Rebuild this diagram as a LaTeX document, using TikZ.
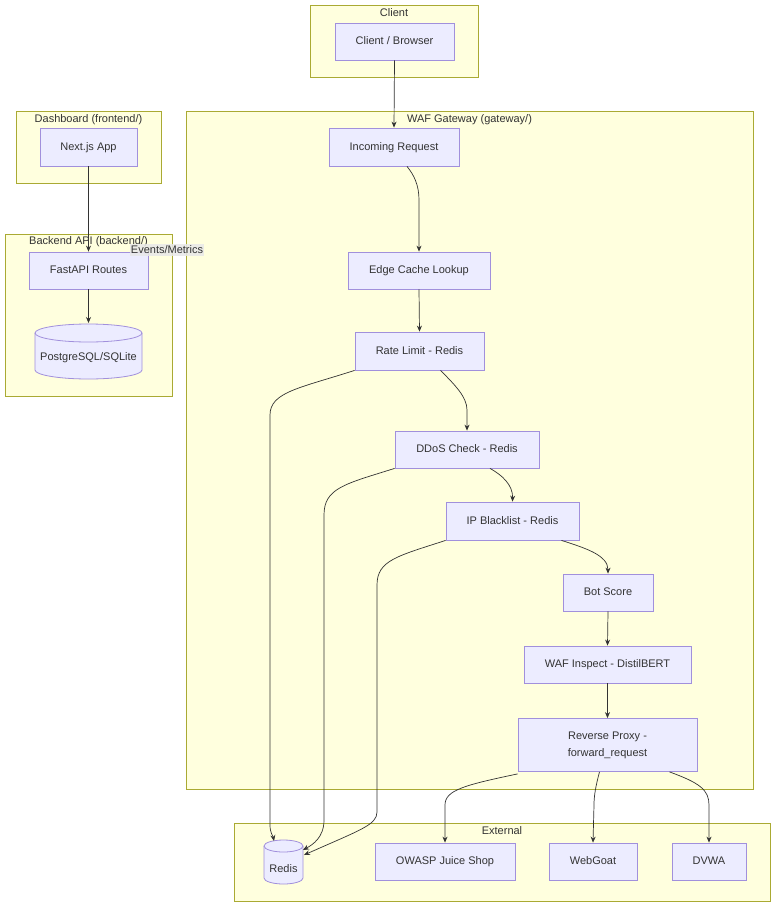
\documentclass[tikz,border=0pt]{standalone}
\usepackage{fontspec}
\setmainfont{Liberation Sans}
\usetikzlibrary{arrows.meta}
\definecolor{clfill}{HTML}{FFFFDE}
\definecolor{cldraw}{HTML}{AAAA33}
\definecolor{ndfill}{HTML}{ECECFF}
\definecolor{nddraw}{HTML}{A190DC}
\definecolor{txt}{HTML}{333333}
\definecolor{lblbg}{HTML}{E8E8E8}
\tikzset{
  cluster/.style={draw=cldraw, fill=clfill, line width=0.7pt},
  cltitle/.style={text=txt, font=\fontsize{11}{13}\selectfont, inner sep=0pt},
  boxbase/.style={draw=nddraw, fill=ndfill, line width=0.8pt, text=txt, font=\fontsize{11}{17}\selectfont, align=center, inner sep=0pt},
  box/.style={boxbase, text height=8pt, text depth=2pt},
  conn/.style={draw=txt, line width=0.7pt, -{Stealth[length=6pt,width=5pt]}},
  edgelabel/.style={fill=lblbg, fill opacity=0.85, text opacity=1, text=txt, font=\fontsize{11}{13}\selectfont, inner xsep=1pt, inner ysep=2pt}
}
\begin{document}
\begin{tikzpicture}[x=1pt,y=-1pt]
\useasboundingbox[fill=white] (0,0) rectangle (784,916);
% clusters
\node[cluster, minimum width=168, minimum height=72, inner sep=0pt] (gclient) at (394,41) {};
\node[cltitle] (tclient) at (394,13) {Client};
\node[cluster, minimum width=567, minimum height=678, inner sep=0pt] (gwaf) at (469.5,450) {};
\node[cltitle] (twaf) at (469.5,120) {WAF Gateway (gateway/)};
\node[cluster, minimum width=145, minimum height=72, inner sep=0pt] (gdash) at (88.5,147) {};
\node[cltitle] (tdash) at (88.5,120) {Dashboard (frontend/)};
\node[cluster, minimum width=167, minimum height=162, inner sep=0pt] (gback) at (88.5,315) {};
\node[cltitle] (tback) at (88.5,242) {Backend API (backend/)};
\node[cluster, minimum width=536, minimum height=78, inner sep=0pt] (gext) at (502,862) {};
\node[cltitle] (text) at (502,831) {External};

% nodes
\node[box, minimum width=119, minimum height=37] (cb) at (394.5,41.5) {Client / Browser};
\node[box, minimum width=130, minimum height=38] (inc) at (394,147) {Incoming Request};
\node[box, minimum width=142, minimum height=37] (ecl) at (419,270.5) {Edge Cache Lookup};
\node[box, minimum width=129, minimum height=38] (rl) at (419.5,351) {Rate Limit - Redis};
\node[box, minimum width=144, minimum height=37] (dd) at (467,449.5) {DDoS Check - Redis};
\node[box, minimum width=133, minimum height=38] (ipb) at (512.5,521) {IP Blacklist - Redis};
\node[box, minimum width=90, minimum height=37] (bot) at (608,592.5) {Bot Score};
\node[box, minimum width=167, minimum height=37] (wi) at (607.5,664.5) {WAF Inspect - DistilBERT};
\node[boxbase, minimum width=179, minimum height=53] (rp) at (607.5,745) {Reverse Proxy -\\forward\_request};
\node[box, minimum width=97, minimum height=38] (nx) at (88.5,147) {Next.js App};
\node[box, minimum width=119, minimum height=37] (fa) at (88.5,270.5) {FastAPI Routes};
\node[box, minimum width=140, minimum height=37] (ow) at (445,861.5) {OWASP Juice Shop};
\node[box, minimum width=88, minimum height=37] (wg) at (593,861.5) {WebGoat};
\node[box, minimum width=74, minimum height=37] (dv) at (709,861.5) {DVWA};

% cylinders
\draw[draw=nddraw, fill=ndfill, line width=0.8pt]
  (35,333) arc[start angle=180, end angle=360, x radius=53.5, y radius=9]
  -- (142,370) arc[start angle=0, end angle=180, x radius=53.5, y radius=9] -- cycle;
\draw[draw=nddraw, line width=0.8pt]
  (35,333) arc[start angle=180, end angle=0, x radius=53.5, y radius=9];
\node[box, draw=none, fill=none, minimum width=107, minimum height=40] (pg) at (88.5,357) {PostgreSQL/SQLite};
\draw[draw=nddraw, fill=ndfill, line width=0.8pt]
  (264,846) arc[start angle=180, end angle=360, x radius=19.5, y radius=6]
  -- (303,878) arc[start angle=0, end angle=180, x radius=19.5, y radius=6] -- cycle;
\draw[draw=nddraw, line width=0.8pt]
  (264,846) arc[start angle=180, end angle=0, x radius=19.5, y radius=6];
\node[box, draw=none, fill=none, minimum width=39, minimum height=30] (rd) at (283.5,869) {Redis};
\coordinate (rdtop) at (274,841);
\coordinate (rdr1) at (303,850);
\coordinate (rdr2) at (304,855);

% connectors
\draw[conn] (cb.south) -- (inc.north);
\draw[conn] ([xshift=13]inc.south) .. controls (414,175) and (419,185) .. (419,200) -- (ecl.north);
\draw[conn] (ecl.south) -- (rl.north);
\draw[conn] ([xshift=21]rl.south) .. controls (455,385) and (467,397) .. (467,410) -- (dd.north);
\draw[conn] ([xshift=23]dd.south) .. controls (502,475) and (513,485) .. (ipb.north);
\draw[conn] ([xshift=49]ipb.south) .. controls (585,548) and (608,555) .. (bot.north);
\draw[conn] (bot.south) -- (wi.north);
\draw[conn] (wi.south) -- (rp.north);
\draw[conn] (rl.south west) .. controls (300,388) and (270,392) .. (270,415) -- (270,825) .. controls (270,833) and (273,836) .. (rdtop);
\draw[conn] (dd.south west) .. controls (345,484) and (324,488) .. (324,515) -- (324,820) .. controls (324,838) and (312,845) .. (rdr1);
\draw[conn] (ipb.south west) .. controls (398,556) and (377,560) .. (377,585) -- (377,812) .. controls (377,825) and (360,830) .. (rdr2);
\draw[conn] ([yshift=-2]rp.south west) .. controls (465,785) and (445,790) .. (445,805) -- (ow.north);
\draw[conn] ([xshift=-8]rp.south) .. controls (596,785) and (594,795) .. (594,805) -- (wg.north);
\draw[conn] ([xshift=62]rp.south) .. controls (700,783) and (709,790) .. (709,805) -- (dv.north);
\draw[conn] (nx.south) -- (fa.north);
\draw[conn] (fa.south) -- (88.5,323);

% edge label
\node[edgelabel] (ev) at (167,250) {Events/Metrics};
\end{tikzpicture}
\end{document}
